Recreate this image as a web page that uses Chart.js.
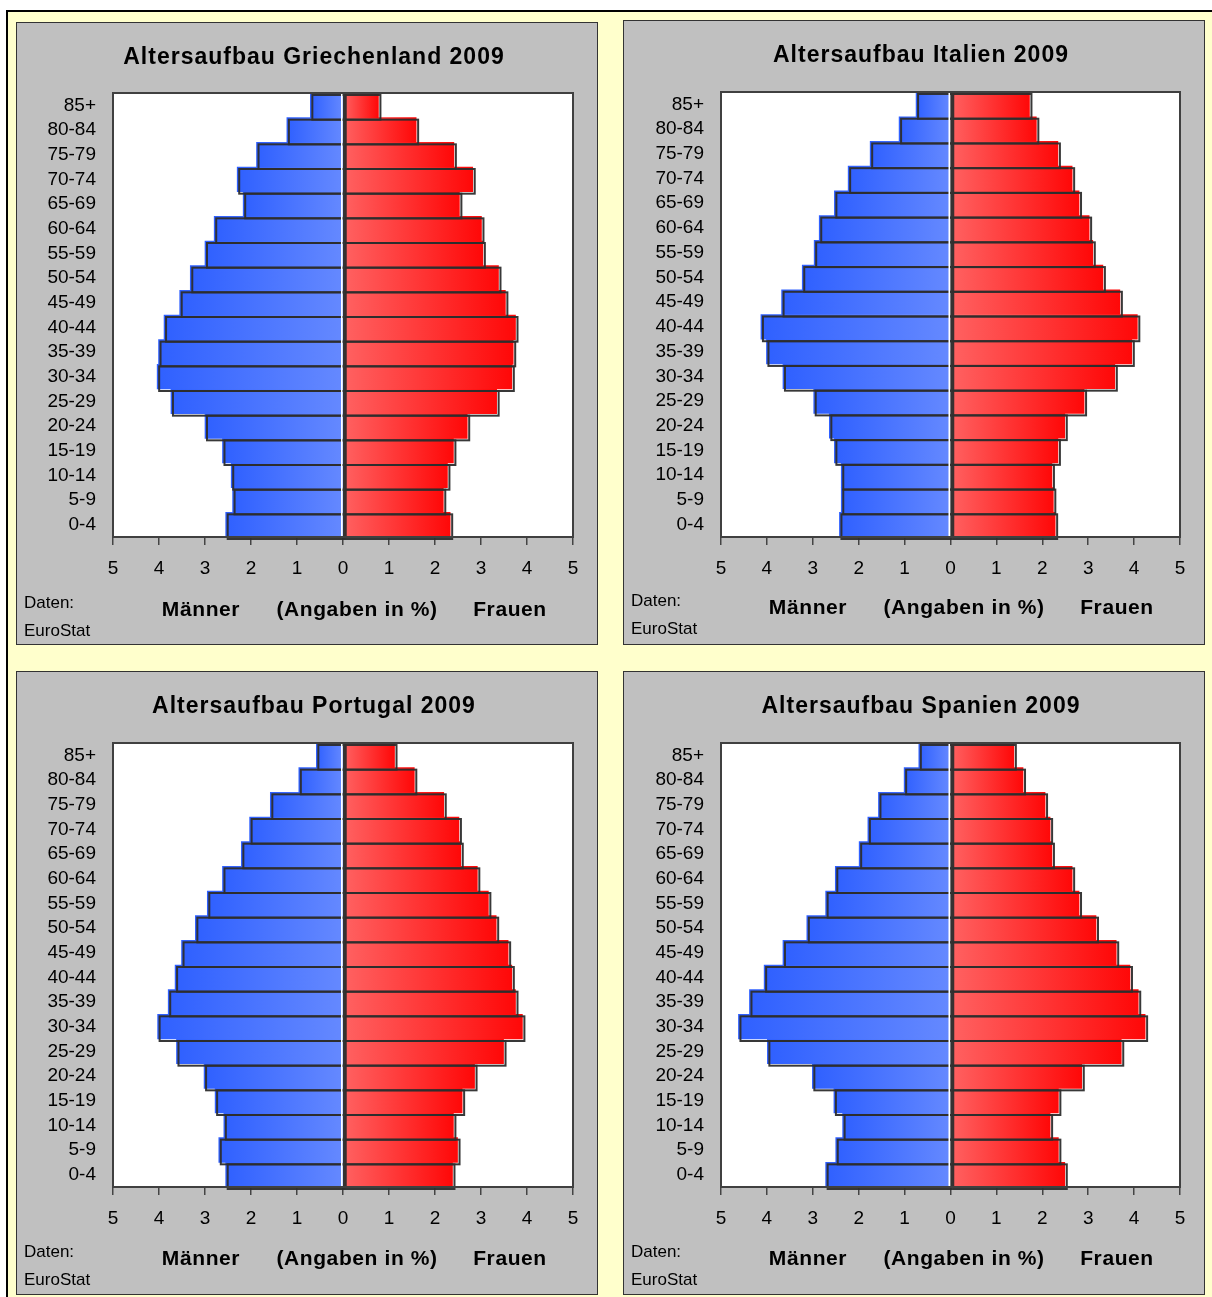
<!DOCTYPE html>
<html lang="de">
<head>
<meta charset="utf-8">
<title>Altersaufbau 2009</title>
<script src="https://cdn.jsdelivr.net/npm/chart.js@4.4.1/dist/chart.umd.min.js"></script>
<style>
  body { margin: 0; background: #fff; font-family: "Liberation Sans", Arial, sans-serif; color: #000; }
  #rahmen { position: absolute; left: 6px; top: 10px; width: 1230px; height: 1310px; background: #ffffcc; border: 2px solid #000; }
  .panel { position: absolute; box-sizing: border-box; width: 582px; background: #c0c0c0; border: 1px solid #333; }
  .panel canvas { position: absolute; left: 0; top: 0; }
  .titel { position: absolute; left: 14px; right: 0; top: 22px; text-align: center; font-weight: bold; font-size: 23px; line-height: 23px; letter-spacing: 1px; }
  .quelle { position: absolute; left: 7px; font-size: 17px; line-height: 17px; }
  .achse { position: absolute; top: 575px; font-weight: bold; font-size: 21px; line-height: 21px; letter-spacing: 0.6px; transform: translateX(-50%); white-space: nowrap; }
</style>
</head>
<body>
<div id="rahmen"></div>

<script>
// Altersgruppen (von unten nach oben)
const altersgruppen = ['0-4', '5-9', '10-14', '15-19', '20-24', '25-29', '30-34', '35-39', '40-44',
  '45-49', '50-54', '55-59', '60-64', '65-69', '70-74', '75-79', '80-84', '85+'];
const achsenWerte = [-5, -4, -3, -2, -1, 0, 1, 2, 3, 4, 5];

// Anteile in % (Männer / Frauen), Reihenfolge wie altersgruppen
const griechenlandMaenner = [2.55, 2.40, 2.43, 2.62, 3.00, 3.74, 4.04, 4.01, 3.89, 3.55, 3.32, 3.00, 2.80, 2.17, 2.30, 1.88, 1.22, 0.71];
const griechenlandFrauen  = [2.33, 2.18, 2.27, 2.40, 2.70, 3.34, 3.67, 3.70, 3.75, 3.53, 3.38, 3.04, 3.01, 2.53, 2.82, 2.41, 1.59, 0.77];
const italienMaenner      = [2.42, 2.38, 2.38, 2.53, 2.64, 2.98, 3.65, 4.01, 4.13, 3.68, 3.23, 2.97, 2.86, 2.53, 2.23, 1.75, 1.12, 0.75];
const italienFrauen       = [2.28, 2.24, 2.21, 2.34, 2.49, 2.91, 3.58, 3.95, 4.07, 3.69, 3.32, 3.10, 3.02, 2.80, 2.65, 2.34, 1.87, 1.72];
const portugalMaenner     = [2.55, 2.70, 2.59, 2.78, 3.02, 3.62, 4.03, 3.80, 3.65, 3.51, 3.21, 2.95, 2.62, 2.21, 2.03, 1.58, 0.96, 0.58];
const portugalFrauen      = [2.38, 2.49, 2.40, 2.59, 2.86, 3.49, 3.90, 3.75, 3.67, 3.59, 3.33, 3.16, 2.92, 2.56, 2.52, 2.19, 1.55, 1.12];
const spanienMaenner      = [2.72, 2.50, 2.35, 2.54, 3.01, 3.99, 4.62, 4.38, 4.06, 3.65, 3.13, 2.72, 2.51, 1.99, 1.80, 1.57, 1.01, 0.69];
const spanienFrauen       = [2.49, 2.35, 2.17, 2.35, 2.86, 3.72, 4.24, 4.09, 3.91, 3.61, 3.17, 2.80, 2.65, 2.21, 2.17, 2.06, 1.58, 1.38];

Chart.defaults.font.family = '"Liberation Sans", Arial, sans-serif';
Chart.defaults.color = '#000';

const panels = [
  { titel: 'Altersaufbau Griechenland 2009', maenner: griechenlandMaenner, frauen: griechenlandFrauen, x: 16, y: 22, h: 623, links: 96, oben: 70 },
  { titel: 'Altersaufbau Italien 2009', maenner: italienMaenner, frauen: italienFrauen, x: 623, y: 20, h: 625, links: 97, oben: 71 },
  { titel: 'Altersaufbau Portugal 2009', maenner: portugalMaenner, frauen: portugalFrauen, x: 16, y: 671, h: 624, links: 96, oben: 71 },
  { titel: 'Altersaufbau Spanien 2009', maenner: spanienMaenner, frauen: spanienFrauen, x: 623, y: 671, h: 624, links: 97, oben: 71 }
];

// Farbverlauf je Balken (außen kräftig, zur Mitte heller)
function verlauf(aussen, innen) {
  return function (ctx) {
    const chart = ctx.chart;
    if (!chart.chartArea || ctx.raw === undefined) return innen;
    const xs = chart.scales.x;
    const x0 = xs.getPixelForValue(0);
    const x1 = xs.getPixelForValue(ctx.raw);
    if (x0 === x1) return innen;
    const g = chart.ctx.createLinearGradient(x1, 0, x0, 0);
    g.addColorStop(0, aussen);
    g.addColorStop(1, innen);
    return g;
  };
}

const rahmenPlugin = {
  id: 'rahmen',
  beforeDraw(chart) {
    const a = chart.chartArea;
    chart.ctx.save();
    chart.ctx.fillStyle = '#fff';
    chart.ctx.fillRect(a.left, a.top, a.right - a.left, a.bottom - a.top);
    chart.ctx.restore();
  },
  afterDatasetsDraw(chart) {
    const c = chart.ctx, a = chart.chartArea;
    const x0 = chart.scales.x.getPixelForValue(0);
    c.save();
    // versetzte Umrandung der Balken (Schatten wie in Excel)
    c.strokeStyle = 'rgba(45,45,45,0.95)';
    c.lineWidth = 2;
    chart.data.datasets.forEach((ds, i) => {
      chart.getDatasetMeta(i).data.forEach(bar => {
        const p = bar.getProps(['x', 'y', 'base', 'height'], true);
        const l = Math.min(p.x, p.base), r = Math.max(p.x, p.base);
        c.strokeRect(l + 2, p.y - p.height / 2 + 2, r - l, p.height);
      });
    });
    // Nulllinie
    c.fillStyle = '#fff';
    c.fillRect(x0 - 2, a.top, 1.5, a.bottom - a.top);
    c.fillStyle = '#333';
    c.fillRect(x0, a.top, 2, a.bottom - a.top);
    // Rahmen der Zeichenfläche
    c.strokeStyle = '#404040';
    c.lineWidth = 2;
    c.strokeRect(a.left, a.top, a.right - a.left, a.bottom - a.top);
    c.restore();
  }
};

panels.forEach(p => {
  const div = document.createElement('div');
  div.className = 'panel';
  div.style.left = p.x + 'px';
  div.style.top = p.y + 'px';
  div.style.height = p.h + 'px';
  div.innerHTML =
    '<canvas width="580" height="' + (p.h - 2) + '"></canvas>' +
    '<div class="titel">' + p.titel + '</div>' +
    '<div class="quelle" style="top:571px">Daten:</div>' +
    '<div class="quelle" style="top:599px">EuroStat</div>' +
    '<div class="achse" style="left:184px">Männer</div>' +
    '<div class="achse" style="left:340px">(Angaben in %)</div>' +
    '<div class="achse" style="left:493px">Frauen</div>';
  document.body.appendChild(div);

  new Chart(div.querySelector('canvas'), {
    type: 'bar',
    data: {
      labels: altersgruppen,
      datasets: [
        { label: 'Männer', data: p.maenner.map(v => -v), backgroundColor: verlauf('#2f60ff', '#6589ff') },
        { label: 'Frauen', data: p.frauen, backgroundColor: verlauf('#ff0808', '#ff6262') }
      ]
    },
    options: {
      indexAxis: 'y',
      responsive: false,
      animation: false,
      layout: { padding: { left: 0, top: p.oben, right: 24, bottom: 0 } },
      datasets: { bar: { categoryPercentage: 1, barPercentage: 1, borderWidth: 0 } },
      plugins: { legend: { display: false }, tooltip: { enabled: false } },
      scales: {
        x: {
          stacked: true, min: achsenWerte[0], max: achsenWerte[achsenWerte.length - 1],
          afterBuildTicks: s => { s.ticks = achsenWerte.map(v => ({ value: v })); },
          ticks: { callback: v => Math.abs(v), font: { size: 19 }, padding: 12, maxRotation: 0 },
          grid: { drawOnChartArea: false, tickLength: 8, color: '#444', lineWidth: 1.5 },
          border: { display: false },
          afterFit: s => { s.height = 107; }
        },
        y: {
          stacked: true, reverse: true,
          ticks: { font: { size: 19 }, padding: 17, autoSkip: false },
          grid: { display: false, drawTicks: false },
          border: { display: false },
          afterFit: s => { s.width = p.links; }
        }
      }
    },
    plugins: [rahmenPlugin]
  });
});
</script>
</body>
</html>
